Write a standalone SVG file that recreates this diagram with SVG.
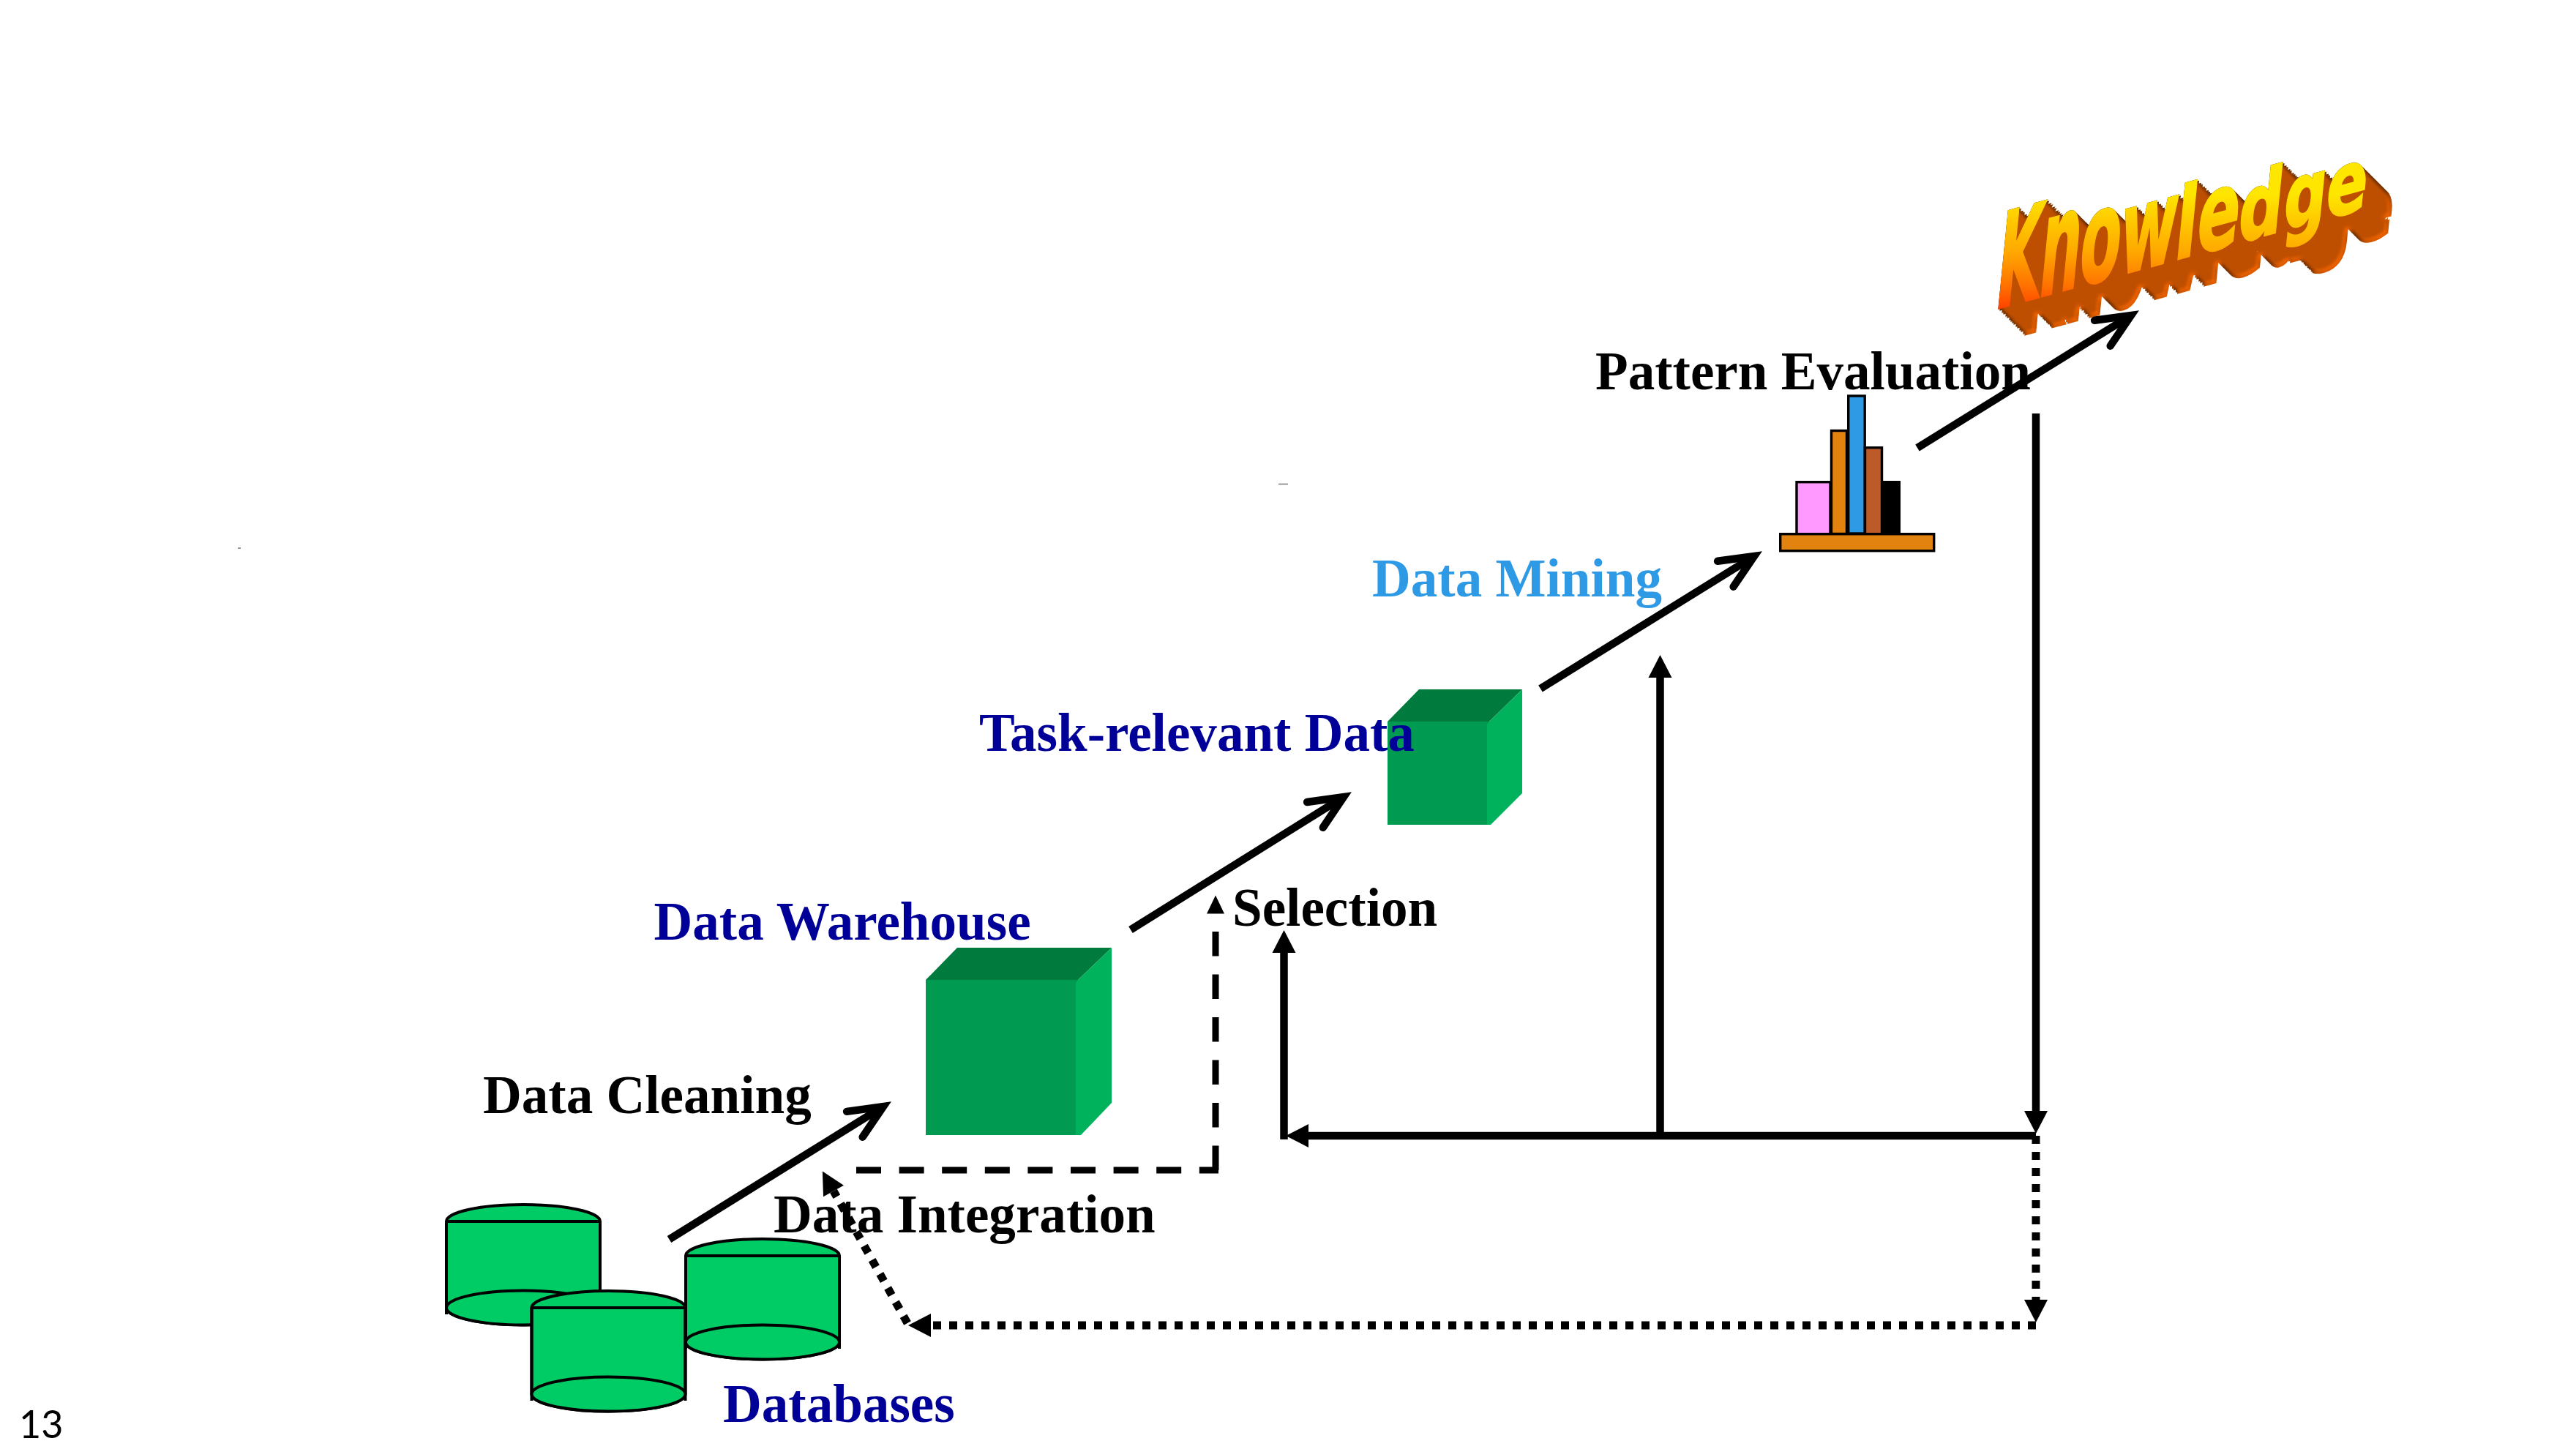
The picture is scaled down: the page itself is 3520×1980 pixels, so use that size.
<svg xmlns="http://www.w3.org/2000/svg" xmlns:xlink="http://www.w3.org/1999/xlink" width="3520" height="1980" viewBox="0 0 3520 1980">
<style>
text{font-family:"Liberation Serif","Times New Roman",serif;font-weight:700;font-size:73.1px}
.black{fill:#000}
.navy{fill:#000099}
.sky{fill:#2E9AE6}
.cyl{fill:#00CC66;stroke:#000;stroke-width:4}
.line{fill:none;stroke:#000}
.bar{stroke:#000;stroke-width:3.4}
.thick{stroke-width:10.5}
.dash{stroke-width:9}
.dot{stroke-width:11;stroke-dasharray:11 11}
.top{fill:#007A3D}
.front{fill:#009B50}
.side{fill:#00B25C}
</style>
<defs>
<marker id="open" markerUnits="userSpaceOnUse" markerWidth="60" markerHeight="60" refX="0" refY="0" orient="auto" overflow="visible"><path d="M-46,-20.5 L0,0 L-46,20.5" fill="none" stroke="#000" stroke-width="10.5" stroke-linecap="round" stroke-linejoin="miter" stroke-miterlimit="10"/></marker>
<marker id="tri" markerUnits="userSpaceOnUse" markerWidth="40" markerHeight="40" refX="0" refY="0" orient="auto" overflow="visible"><path d="M0,-16 L31,0 L0,16 Z" fill="#000"/></marker>
<marker id="tri-small" markerUnits="userSpaceOnUse" markerWidth="30" markerHeight="30" refX="0" refY="0" orient="auto" overflow="visible"><path d="M0,-12 L25,0 L0,12 Z" fill="#000"/></marker>
<g id="cylinder">
<path class="cyl" d="M0,0 A105,23 0 0 1 210,0 V118 A105,23.5 0 0 1 0,118 Z"/>
<path class="line" stroke-width="4" d="M0,0 H210 M0,0 V127 M210,0 V127"/>
<ellipse class="cyl" cx="105" cy="118" rx="105" ry="23.5"/>
</g>
<linearGradient id="wordfill" gradientUnits="userSpaceOnUse" x1="0" y1="265" x2="0" y2="423" gradientTransform="matrix(1.0281 .2807 .1028 1.0281 -2850.1 -1201.1)">
<stop offset="0" stop-color="#FFE600"/><stop offset=".5" stop-color="#FFA800"/><stop offset=".8" stop-color="#FF7000"/><stop offset="1" stop-color="#FF4000"/>
</linearGradient>
<filter id="extrude" filterUnits="userSpaceOnUse" x="2650" y="150" width="800" height="400" color-interpolation-filters="sRGB">
<feOffset in="SourceAlpha" dx="2.4" dy="2.4" result="o1"/>
<feMerge result="m1"><feMergeNode in="SourceAlpha"/><feMergeNode in="o1"/></feMerge>
<feOffset in="m1" dx="4.8" dy="4.8" result="o2"/>
<feMerge result="m2"><feMergeNode in="m1"/><feMergeNode in="o2"/></feMerge>
<feOffset in="m2" dx="9.6" dy="9.6" result="o3"/>
<feMerge result="m3"><feMergeNode in="m2"/><feMergeNode in="o3"/></feMerge>
<feOffset in="m3" dx="19.2" dy="19.2" result="o4"/>
<feMerge result="m4"><feMergeNode in="m3"/><feMergeNode in="o4"/></feMerge>
<feGaussianBlur in="m4" stdDeviation="3" result="soft"/>
<feDiffuseLighting in="soft" surfaceScale="5" diffuseConstant="1" lighting-color="#E86000" result="lit"><feDistantLight azimuth="45" elevation="55"/></feDiffuseLighting>
<feComposite in="lit" in2="m4" operator="in" result="side"/>
<feMerge><feMergeNode in="side"/><feMergeNode in="SourceGraphic"/></feMerge>
</filter>
</defs>

<g id="databases">
<use href="#cylinder" transform="translate(610,1669)"/>
<use href="#cylinder" transform="translate(937,1716)"/>
<use href="#cylinder" transform="translate(726.5,1787)"/>
<text class="navy" x="988" y="1943">Databases</text>
</g>

<g id="data-warehouse">
<rect class="front" x="1265" y="1339" width="212" height="212"/>
<path class="top" d="M1265,1339 L1308,1295 H1519 L1473,1339 Z"/>
<path class="side" d="M1473,1339 L1519,1295 V1507 L1477,1551 H1470 V1343 Z"/>
<text class="navy" x="893.5" y="1284">Data Warehouse</text>
</g>

<g id="task-relevant-data">
<rect class="front" x="1896" y="986" width="140" height="141"/>
<path class="top" d="M1896,986 L1939,942 H2080 L2035,986 Z"/>
<path class="side" d="M2035,986 L2080,942 V1084 L2037,1127 H2032 V990 Z"/>
<text class="navy" x="1338" y="1026">Task-relevant Data</text>
</g>

<g id="data-mining">
<text class="sky" x="1875" y="815">Data Mining</text>
</g>

<g id="pattern-evaluation">
<rect class="bar" fill="#FF99FF" x="2455" y="658.7" width="46" height="71"/>
<rect class="bar" fill="#E3830F" x="2502.5" y="588.5" width="21" height="141"/>
<rect class="bar" fill="#2E9AE6" x="2525.7" y="541" width="22.5" height="188"/>
<rect class="bar" fill="#BC5A2A" x="2548.5" y="611.7" width="23" height="118"/>
<rect fill="#000" x="2570" y="657" width="27" height="72"/>
<rect class="bar" fill="#E3830F" x="2432.7" y="729.7" width="210" height="23"/>
<text class="black" x="2180" y="532">Pattern Evaluation</text>
</g>

<g id="knowledge" filter="url(#extrude)">
<text transform="matrix(1 -.273 -.1 1 2724 423)" fill="url(#wordfill)" stroke="url(#wordfill)" stroke-width="3" style="font-family:'DejaVu Sans','Liberation Sans',sans-serif;font-weight:700" y="0"><tspan x="0" textLength="60" lengthAdjust="spacingAndGlyphs" style="font-size:182px">K</tspan><tspan x="59" textLength="56" lengthAdjust="spacingAndGlyphs" style="font-size:194px">n</tspan><tspan x="114" textLength="56" lengthAdjust="spacingAndGlyphs" style="font-size:176px">o</tspan><tspan x="169" textLength="78" lengthAdjust="spacingAndGlyphs" style="font-size:163px">w</tspan><tspan x="245" textLength="30" lengthAdjust="spacingAndGlyphs" style="font-size:136px">l</tspan><tspan x="275" textLength="58" lengthAdjust="spacingAndGlyphs" style="font-size:148px">e</tspan><tspan x="332" textLength="60" lengthAdjust="spacingAndGlyphs" style="font-size:125px">d</tspan><tspan x="394" textLength="58" lengthAdjust="spacingAndGlyphs" style="font-size:123px">g</tspan><tspan x="452" textLength="56" lengthAdjust="spacingAndGlyphs" style="font-size:120px">e</tspan></text>
</g>

<g id="connectors">
<path class="line thick" marker-end="url(#open)" d="M914.5,1693.5 L1207,1512"/>
<path class="line thick" marker-end="url(#open)" d="M1545,1270.5 L1836,1089"/>
<path class="line thick" marker-end="url(#open)" d="M2105,941 L2397,760"/>
<path class="line thick" marker-end="url(#open)" d="M2620,612 L2912,431"/>
<path class="line dash" stroke-dasharray="34 24.6" d="M1170,1599 H1665"/>
<path class="line dash" stroke-dasharray="33.5 25" marker-end="url(#tri-small)" d="M1661,1599 V1248.5"/>
<path class="line thick" marker-end="url(#tri)" d="M2782,565 V1518"/>
<path class="line thick" marker-end="url(#tri)" d="M2782,1552 H1788"/>
<path class="line thick" marker-end="url(#tri)" d="M1754.5,1557 V1302"/>
<path class="line thick" marker-end="url(#tri)" d="M2268.5,1552 V926"/>
<path class="line dot" marker-end="url(#tri)" d="M2782,1552 V1776"/>
<path class="line dot" marker-end="url(#tri)" d="M2782,1811 H1272"/>
<path class="line dot" marker-end="url(#tri)" d="M1240,1808 L1139,1627.5"/>
</g>

<g id="labels">
<text class="black" x="660" y="1521">Data Cleaning</text>
<text class="black" x="1057" y="1684">Data Integration</text>
<text class="black" x="1684" y="1265">Selection</text>
<text x="26" y="1965" style="font-family:Lato,'Open Sans',sans-serif;font-weight:400;font-size:52px" fill="#000">13</text>
</g>

<g id="specks" stroke="#777" stroke-width="1.5">
<path d="M1747,661.5 H1760"/>
<path d="M325,749 H329"/>
</g>
</svg>
